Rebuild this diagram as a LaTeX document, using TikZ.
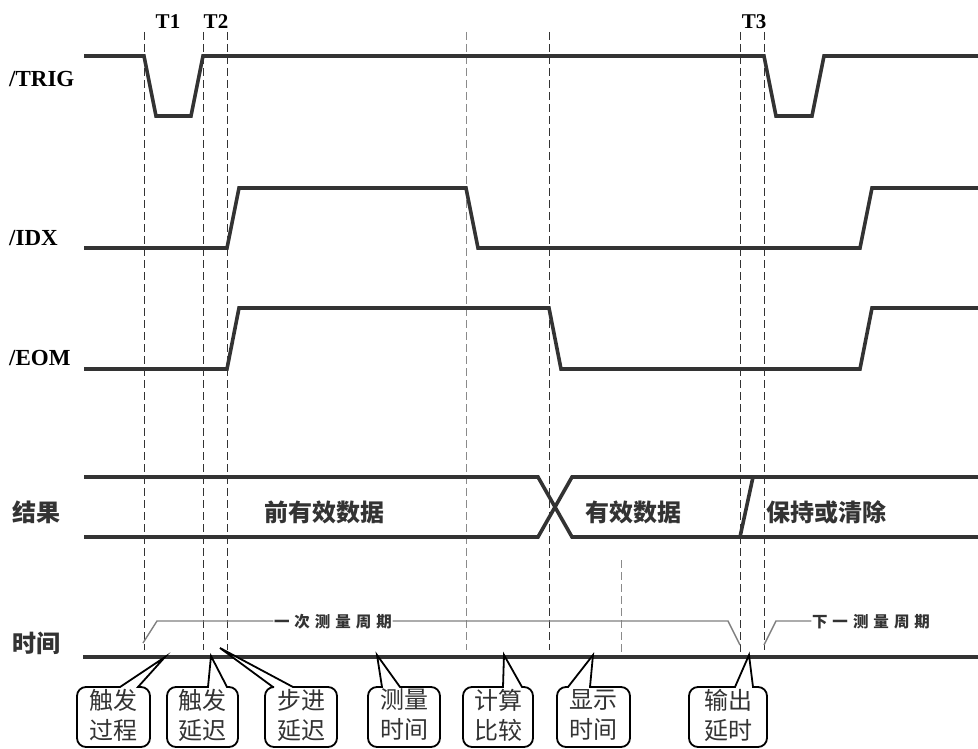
\documentclass[tikz,border=0pt]{standalone}
\usepackage{fontspec}
\setmainfont{Liberation Serif}
\newfontfamily\cjk{Noto Sans CJK SC}
\definecolor{sigc}{HTML}{333333}
\definecolor{dashc}{HTML}{333333}
\definecolor{gdashc}{HTML}{8A8A8A}
\definecolor{brkc}{HTML}{808080}
\definecolor{txtc}{HTML}{333333}
\newcommand\myspc{\hspace{5pt}}
\newcommand\mycallout[8]{%
  \draw[cbox] (#1+9,687) -- (#3,687) -- (#5,#6) -- (#4,687) -- (#2-9,687)
    arc[start angle=-90,end angle=0,radius=9] -- (#2,738)
    arc[start angle=0,end angle=90,radius=9] -- (#1+9,747)
    arc[start angle=90,end angle=180,radius=9] -- (#1,696)
    arc[start angle=180,end angle=270,radius=9] -- cycle;
  \node[ctext] (#7) at ({(#1+#2)/2},715) {#8};
}
\begin{document}
\begin{tikzpicture}[x=1pt,y=-1pt,
  sig/.style={line width=3.6pt, draw=sigc, line join=miter},
  vdash/.style={draw=dashc, line width=0.9pt, dash pattern=on 8pt off 4pt},
  gdash/.style={vdash, draw=gdashc},
  brk/.style={draw=brkc, line width=1.4pt},
  lbl/.style={font=\fontsize{23}{26}\selectfont\bfseries, text=black, inner sep=0pt, anchor=west},
  tlabel/.style={font=\fontsize{21}{24}\selectfont\bfseries, text=black, inner sep=0pt},
  cjkb/.style={font=\cjk\fontsize{24}{28}\selectfont\bfseries, text=txtc, inner sep=0pt},
  cyc/.style={font=\cjk\fontsize{15.5}{17}\selectfont\bfseries, text=txtc, inner sep=0.5pt},
  cbox/.style={draw=black, line width=1.8pt, fill=white, line join=miter},
  ctext/.style={font=\cjk\fontsize{24}{30}\selectfont, align=center, text=txtc, inner sep=0pt}
]
\useasboundingbox (0,0) rectangle (978,749);

% vertical dashed guides
\draw[vdash] (144,32) -- (144,650);
\draw[vdash] (203,32) -- (203,650);
\draw[vdash] (227,32) -- (227,650);
\draw[gdash] (466,32) -- (466,650);
\draw[vdash] (549,32) -- (549,650);
\draw[vdash] (740,32) -- (740,657);
\draw[vdash] (764,32) -- (764,650);
\draw[gdash] (621,560) -- (621,655);

% labels
\node[tlabel] (t1) at (168,22) {T1};
\node[tlabel] (t2) at (216,22) {T2};
\node[tlabel] (t3) at (754,22) {T3};
\node[lbl] (trig) at (9,79) {/TRIG};
\node[lbl] (idx) at (9,238) {/IDX};
\node[lbl] (eom) at (9,358) {/EOM};
\node[cjkb, anchor=west] (res) at (12,512) {结果};
\node[cjkb, anchor=west] (time) at (12,643) {时间};

% signals
\draw[sig] (84,56) -- (144,56) -- (156,116) -- (191,116) -- (203,56) -- (764,56)
  -- (776,116) -- (812,116) -- (824,56) -- (978,56);
\draw[sig] (84,248) -- (227,248) -- (239,188) -- (466,188) -- (478,248) -- (860,248)
  -- (872,188) -- (978,188);
\draw[sig] (84,369) -- (227,369) -- (239,308) -- (549,308) -- (561,369) -- (860,369)
  -- (872,308) -- (978,308);

% result bus
\draw[sig] (84,477) -- (538,477) -- (572,537) -- (978,537);
\draw[sig] (84,537) -- (538,537) -- (572,477) -- (978,477);
\draw[sig] (740,537) -- (753,477);
\node[cjkb] (old) at (324,512) {前有效数据};
\node[cjkb] (valid) at (633,512) {有效数据};
\node[cjkb] (hold) at (826,512) {保持或清除};

% measurement cycle brackets
\node[cyc] (cyc1) at (333,622) {一\myspc{}次\myspc{}测\myspc{}量\myspc{}周\myspc{}期};
\node[cyc] (cyc2) at (871,622) {下\myspc{}一\myspc{}测\myspc{}量\myspc{}周\myspc{}期};
\draw[brk] (143,643) -- (157,621) -- (cyc1.west |- 0,621);
\draw[brk] (cyc1.east |- 0,621) -- (728,621) -- (740,645);
\draw[brk] (764,645) -- (776,621) -- (cyc2.west |- 0,621);

% time axis
\draw[draw=sigc, line width=4pt] (83,657) -- (978,657);

% callouts
\mycallout{77}{150}{120}{138}{165}{657}{c1}{触发\\过程}
\mycallout{167}{238}{208}{227}{211}{656}{c2}{触发\\延迟}
\mycallout{265}{337}{273}{293}{220}{648}{c3}{步进\\延迟}
\mycallout{368}{440}{382}{400}{377}{655}{c4}{测量\\时间}
\mycallout{463}{533}{503}{522}{504}{655}{c5}{计算\\比较}
\mycallout{557}{630}{568}{590}{593}{655}{c6}{显示\\时间}
\mycallout{689}{767}{735}{753}{749}{655}{c7}{输出\\延时}
\end{tikzpicture}
\end{document}
